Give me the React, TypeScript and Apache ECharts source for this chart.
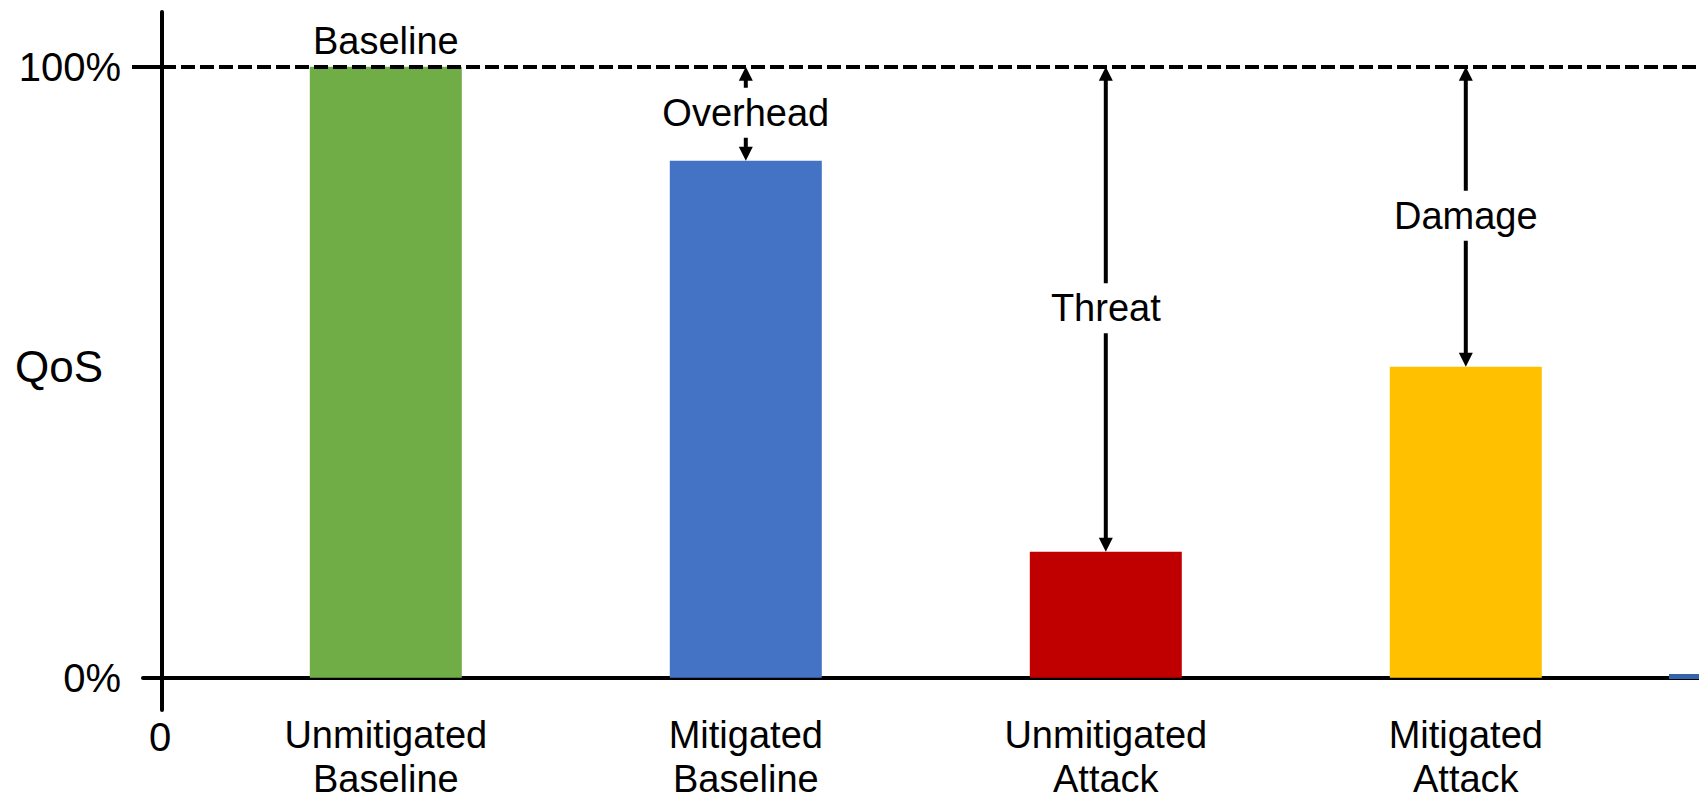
import React, { useEffect, useRef } from "react";
import * as echarts from "echarts";

// Chart content
const categories = [
  "Unmitigated\nBaseline",
  "Mitigated\nBaseline",
  "Unmitigated\nAttack",
  "Mitigated\nAttack",
];
const qosValues = [1.0, 0.846, 0.206, 0.509];
const barColors = ["#70AD47", "#4472C4", "#C00000", "#FFC000"];
const barTopLabels = ["Baseline", "", "", ""];
const gapCategories = [1, 2, 3];
const gapLabels = ["Overhead", "Threat", "Damage"];
const yTickValues = [0, 1];
const xTickValues = [0];
const yAxisTitle = "QoS";

const FONT = "'Liberation Sans', Arial, Helvetica, sans-serif";

// Layout (pixels)
const W = 1699;
const H = 801;
const PLOT_TOP = 12;
const PLOT_BOTTOM = 710;
const ZERO_Y = 677.7;
const FULL_Y = 66.7;
const AXIS_X = 162;
const AXIS_LEFT_EXT = 19;
const BAND = 360;
const FIRST_CENTER = 385.8;

const pxPerUnit = ZERO_Y - FULL_Y;
const yMin = -(PLOT_BOTTOM - ZERO_Y) / pxPerUnit;
const yMax = 1 + (FULL_Y - PLOT_TOP) / pxPerUnit;
const barsLeft = FIRST_CENTER - BAND / 2;
const barsRight = W - (barsLeft + BAND * categories.length);

export default function App() {
  const ref = useRef<HTMLDivElement>(null);

  useEffect(() => {
    if (!ref.current) return;
    const chart = echarts.init(ref.current, null, { renderer: "svg" });
    const baseline = qosValues[0];

    const option: any = {
      animation: false,
      backgroundColor: "#ffffff",
      textStyle: { fontFamily: FONT, color: "#000" },
      grid: [
        // axes frame
        {
          left: AXIS_X - AXIS_LEFT_EXT,
          right: 0,
          top: PLOT_TOP,
          bottom: H - PLOT_BOTTOM,
          containLabel: false,
          outerBoundsMode: "none",
        },
        // bars
        {
          left: barsLeft,
          right: barsRight,
          top: PLOT_TOP,
          bottom: H - PLOT_BOTTOM,
          containLabel: false,
          outerBoundsMode: "none",
        },
      ],
      xAxis: [
        {
          gridIndex: 0,
          type: "value",
          min: -AXIS_LEFT_EXT,
          max: W - AXIS_X,
          axisLine: { show: true, onZero: true, lineStyle: { color: "#000", width: 4 } },
          axisTick: { show: false },
          splitLine: { show: false },
          axisLabel: {
            customValues: xTickValues,
            formatter: (v: number) => String(v),
            fontSize: 40,
            fontFamily: FONT,
            color: "#000",
            margin: 7,
            padding: [0, 4, 0, 0],
          },
        },
        {
          gridIndex: 1,
          type: "category",
          data: categories,
          axisLine: { show: false, onZero: false },
          axisTick: { show: false },
          splitLine: { show: false },
          axisLabel: {
            fontSize: 38,
            lineHeight: 44,
            fontFamily: FONT,
            color: "#000",
            margin: 3,
            interval: 0,
          },
        },
      ],
      yAxis: [
        {
          gridIndex: 0,
          type: "value",
          min: yMin,
          max: yMax,
          offset: -AXIS_LEFT_EXT,
          axisLine: { show: true, onZero: false, lineStyle: { color: "#000", width: 4 } },
          axisTick: {
            show: true,
            customValues: [1],
            length: 30,
            lineStyle: { color: "#000", width: 4 },
          },
          splitLine: { show: false },
          axisLabel: {
            customValues: yTickValues,
            formatter: (v: number) => `${Math.round(v * 100)}%`,
            fontSize: 40,
            fontFamily: FONT,
            color: "#000",
            margin: 41,
          },
        },
        {
          gridIndex: 1,
          type: "value",
          min: yMin,
          max: yMax,
          show: false,
          splitLine: { show: false },
        },
      ],
      series: [
        {
          // 100% reference line
          type: "line",
          xAxisIndex: 0,
          yAxisIndex: 0,
          data: [],
          symbol: "none",
          silent: true,
          markLine: {
            silent: true,
            symbol: ["none", "none"],
            label: { show: false },
            lineStyle: { color: "#000", width: 4, type: [14, 5] },
            data: [[{ coord: [0, baseline] }, { coord: [W - AXIS_X, baseline] }]],
          },
        },
        {
          type: "bar",
          xAxisIndex: 1,
          yAxisIndex: 1,
          barWidth: 152,
          data: qosValues.map((v, i) => ({
            value: v,
            itemStyle: { color: barColors[i] },
            label: {
              show: barTopLabels[i] !== "",
              position: "top",
              distance: 7,
              formatter: barTopLabels[i],
              fontSize: 38,
              fontFamily: FONT,
              color: "#000",
            },
          })),
        },
        {
          // gap arrows between the 100% line and each bar
          type: "custom",
          xAxisIndex: 1,
          yAxisIndex: 1,
          z: 5,
          data: gapCategories.map((c) => [c, baseline, qosValues[c]]),
          renderItem: (params: any, api: any) => {
            const cat = api.value(0);
            const hi = api.value(1);
            const lo = api.value(2);
            const p1 = api.coord([cat, hi]);
            const p2 = api.coord([cat, lo]);
            const x = p1[0];
            const y1 = p1[1];
            const y2 = p2[1];
            const head = 14;
            const half = 7;
            return {
              type: "group",
              children: [
                {
                  type: "line",
                  shape: { x1: x, y1: y1 + head - 1, x2: x, y2: y2 - head + 1 },
                  style: { stroke: "#000", lineWidth: 4 },
                },
                {
                  type: "polygon",
                  shape: { points: [[x, y1], [x - half, y1 + head], [x + half, y1 + head]] },
                  style: { fill: "#000" },
                },
                {
                  type: "polygon",
                  shape: { points: [[x, y2], [x - half, y2 - head], [x + half, y2 - head]] },
                  style: { fill: "#000" },
                },
                {
                  type: "text",
                  x: x,
                  y: (y1 + y2) / 2 - 1,
                  z2: 10,
                  style: {
                    text: gapLabels[params.dataIndex],
                    fontSize: 38,
                    fontFamily: FONT,
                    fill: "#000",
                    align: "center",
                    verticalAlign: "middle",
                    backgroundColor: "#fff",
                    padding: [6, 4],
                  },
                },
              ],
            };
          },
        },
      ],
      graphic: [
        {
          // y-axis title
          type: "text",
          x: 59,
          y: 366,
          style: {
            text: yAxisTitle,
            fontSize: 44,
            fontFamily: FONT,
            fill: "#000",
            align: "center",
            verticalAlign: "middle",
          },
        },
        {
          type: "rect",
          right: 0,
          top: 674,
          z: 100,
          shape: { width: 30, height: 5 },
          style: { fill: "#3563A9" },
        },
      ],
    };

    chart.setOption(option);
    return () => chart.dispose();
  }, []);

  return (
    <div
      ref={ref}
      style={{ position: "fixed", left: 0, top: 0, width: W, height: H, background: "#fff" }}
    />
  );
}
